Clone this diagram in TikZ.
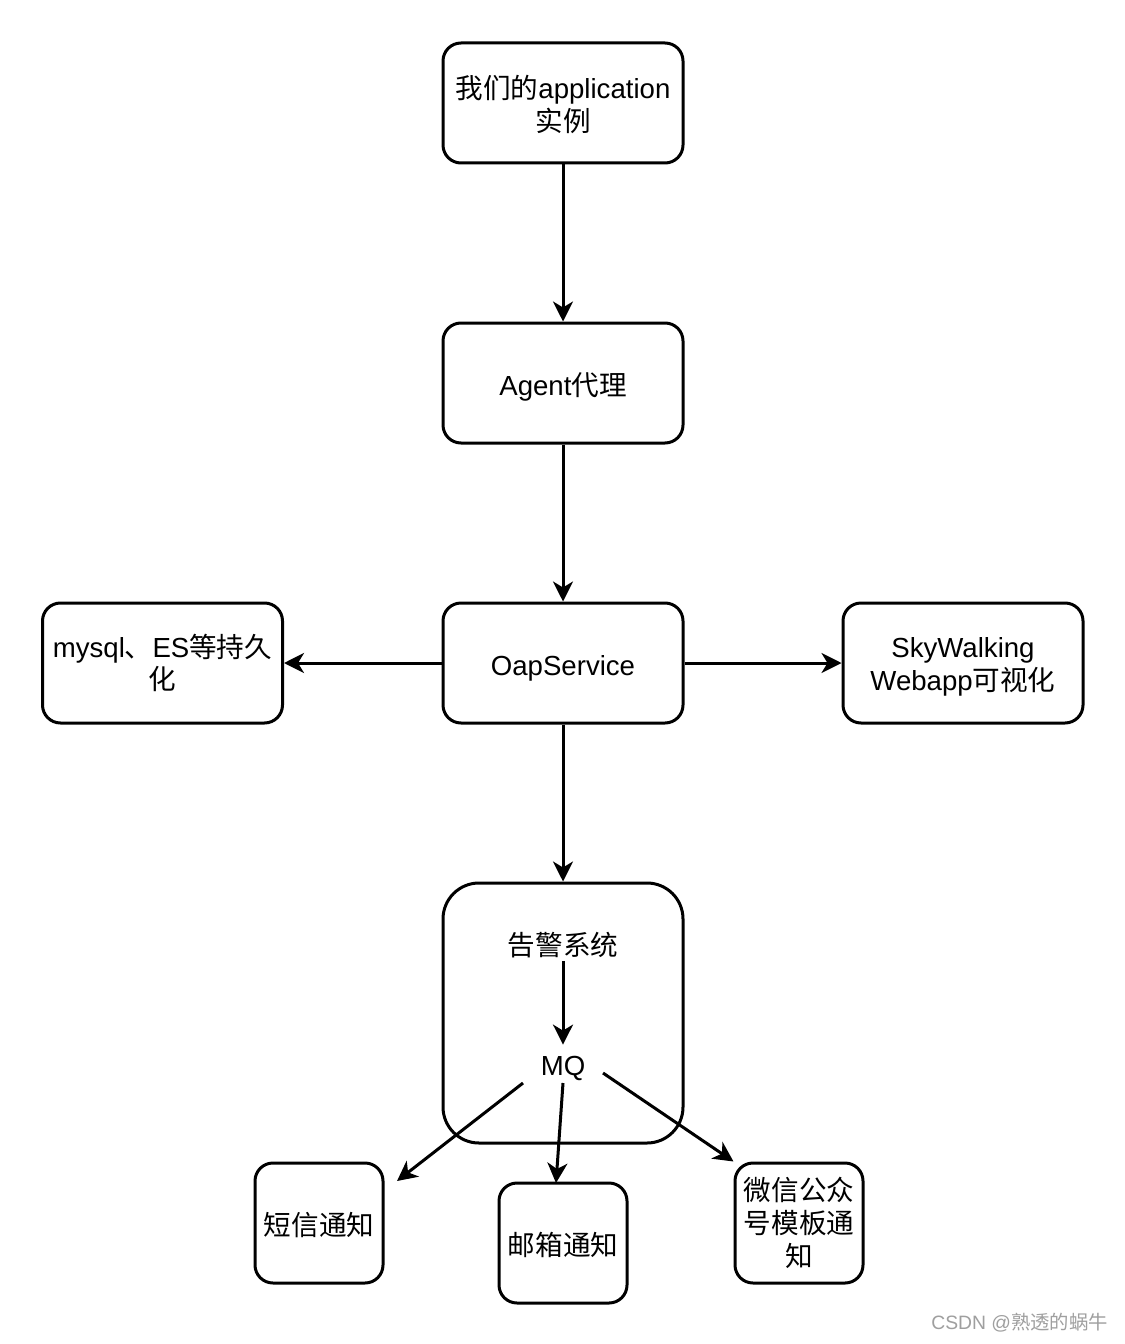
\documentclass[tikz,border=0pt]{standalone}
\usepackage{fontspec}
\setmainfont{Liberation Sans}
\newfontfamily\cjk{Noto Sans CJK SC}
\usetikzlibrary{arrows.meta}
\begin{document}
\begin{tikzpicture}[x=0.75pt,y=-0.75pt,
  box/.style={draw, line width=2.25pt, rounded corners=13.5pt, minimum width=180pt, minimum height=90pt, inner sep=0pt, align=center, font=\fontsize{20.7}{24.5}\selectfont},
  oneline/.style={text height=21pt, text depth=2.2pt},
  smallbox/.style={box, minimum width=96pt, font=\cjk\fontsize{20.7}{24.5}\selectfont},
  arr/.style={line width=2.25pt, -{Stealth[length=15pt,width=15pt,inset=4.5pt]}},
  lbl/.style={font=\fontsize{20.7}{24.5}\selectfont, inner sep=2pt}]
\fill[white] (0,0) rectangle (1124,1344);
\useasboundingbox (0,0) rectangle (1124,1344);

\node[box, label={[align=center, font=\fontsize{20.7}{24.5}\selectfont, yshift=-1pt]center:{{\cjk 我们的}application\\{\cjk 实例}}}] (app) at (563,103) {};
\node[box, oneline] (agent) at (563,383) {Agent{\cjk 代理}};
\node[box, oneline] (oap) at (563,663) {OapService};
\node[box] (db) at (162.5,663) {mysql{\cjk 、}ES{\cjk 等持久}\\{\cjk 化}};
\node[box, label={[align=center, font=\fontsize{20.7}{24.5}\selectfont, yshift=-3pt]center:{SkyWalking\\Webapp{\cjk 可视化}}}] (web) at (963,663) {};
\node[box, minimum height=195pt, rounded corners=27pt] (alarm) at (563,1013) {};
\node[lbl, font=\cjk\fontsize{20.7}{24.5}\selectfont] (sys) at (563,945) {告警系统};
\node[lbl, oneline, inner xsep=14pt, inner ysep=2pt] (mq) at (563,1063) {MQ};
\node[smallbox, oneline] (sms) at (319,1223) {短信通知};
\node[smallbox, oneline] (mail) at (563,1243) {邮箱通知};
\node[smallbox] (wx) at (799,1223) {微信公众\\号模板通\\知};

\draw[arr] (app) -- (agent);
\draw[arr] (agent) -- (oap);
\draw[arr] (oap) -- (alarm);
\draw[arr] (oap) -- (db);
\draw[arr] (oap) -- (web);
\draw[arr] (sys) -- (mq);

\coordinate (mqL) at (523,1083);
\coordinate (mqM) at (563,1083);
\coordinate (mqR) at (603,1073);
\coordinate (smsT) at (397,1181);
\coordinate (mailT) at (556,1183);
\draw[arr] (mqL) -- (smsT);
\draw[arr] (mqM) -- (mailT);
\draw[arr] (mqR) -- (wx.north west);

\node[text=gray!75, font=\fontsize{14.5}{16}\selectfont, anchor=east, inner sep=0pt] (wm) at (1108,1323) {CSDN @{\cjk 熟透的蜗牛}};
\end{tikzpicture}
\end{document}
